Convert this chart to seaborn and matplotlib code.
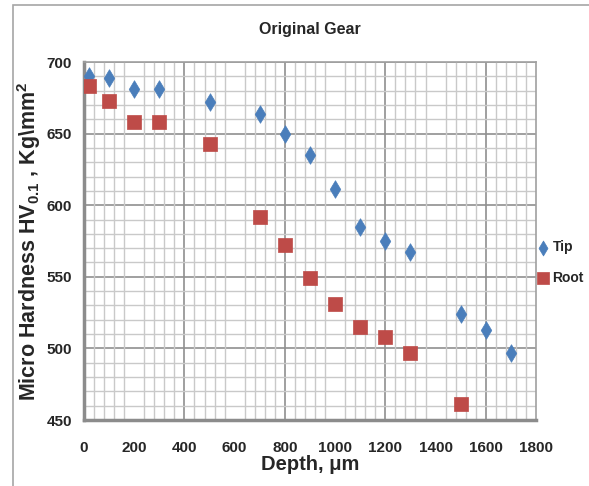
import matplotlib
matplotlib.use("Agg")
import matplotlib.pyplot as plt
import seaborn as sns
import numpy as np
from matplotlib.patches import Rectangle
from matplotlib.ticker import MultipleLocator

# data
depth_tip = [20, 100, 200, 300, 500, 700, 800, 900, 1000, 1100, 1200, 1300, 1500, 1600, 1700]
hv_tip = [690, 689, 681, 681, 672, 664, 650, 635, 611, 585, 575, 567, 524, 513, 497]

depth_root = [20, 100, 200, 300, 500, 700, 800, 900, 1000, 1100, 1200, 1300, 1500]
hv_root = [683, 673, 658, 658, 643, 592, 572, 549, 531, 515, 508, 497, 461]

x_ticks = np.arange(0, 1801, 200)
y_ticks = np.arange(450, 701, 50)

sns.set_style("white")
plt.rcParams['font.family'] = ['Liberation Sans', 'DejaVu Sans']
plt.rcParams['mathtext.fontset'] = 'custom'
plt.rcParams['mathtext.bf'] = 'Liberation Sans:bold'
plt.rcParams['mathtext.rm'] = 'Liberation Sans:bold'
plt.rcParams['mathtext.default'] = 'bf'

fig = plt.figure(figsize=(5.89, 4.86), dpi=100)
ax = fig.add_axes([0.1426, 0.1358, 0.7674, 0.7366])

# outer frame of the original picture
fig.patches.append(Rectangle((13 / 589, -0.01), 1.0, 1 - 5 / 486 + 0.01,
                             transform=fig.transFigure, fill=False,
                             edgecolor='#a6a6a6', linewidth=1.2))

# grid
ax.xaxis.set_minor_locator(MultipleLocator(40))
ax.yaxis.set_minor_locator(MultipleLocator(10))
ax.grid(which='minor', color='#c9c9c9', linewidth=1.0)
ax.set_axisbelow(True)
for xv in range(0, 1801, 400):
    ax.axvline(xv, color='#8f8f8f', linewidth=1.2, zorder=0.5)
for yv in y_ticks:
    ax.axhline(yv, color='#8f8f8f', linewidth=1.2, zorder=0.5)

sns.scatterplot(x=depth_tip, y=hv_tip, marker='d', s=80, color='#4a7ebb',
                edgecolor='#4a7ebb', linewidth=0.5, label='Tip', ax=ax, zorder=3)
sns.scatterplot(x=depth_root, y=hv_root, marker='s', s=90, color='#be4b48',
                edgecolor='#be4b48', linewidth=0.5, label='Root', ax=ax, zorder=3)

ax.set_xlim(0, 1800)
ax.set_ylim(450, 700)
ax.set_xticks(x_ticks)
ax.set_yticks(y_ticks)
ax.tick_params(axis='both', which='both', length=0, labelsize=11)
ax.tick_params(axis='x', pad=15)
ax.tick_params(axis='y', pad=8.5)
for lab in ax.get_xticklabels() + ax.get_yticklabels():
    lab.set_fontweight('bold')
    lab.set_color('#262626')

for side in ['left', 'bottom']:
    ax.spines[side].set_color('#8c8c8c')
    ax.spines[side].set_linewidth(2.5)
for side in ['top', 'right']:
    ax.spines[side].set_color('#a0a0a0')
    ax.spines[side].set_linewidth(1.2)

ax.set_xlabel('Depth, μm', fontsize=14.5, fontweight='bold', labelpad=0)
ax.set_ylabel('Micro Hardness HV$_{0.1}$ , Kg\\mm$^2$', fontsize=15.5,
              fontweight='bold', labelpad=3)
ax.set_title('Original Gear', fontsize=11.5, fontweight='bold', pad=20)

leg = ax.legend(loc='center left', bbox_to_anchor=(0.972, 0.44), frameon=False,
                handletextpad=-0.3, labelspacing=1.2, fontsize=10, borderaxespad=0,
                markerscale=0.85)
for t in leg.get_texts():
    t.set_fontweight('bold')
    t.set_color('#262626')

fig.savefig('out.png', dpi=100)
